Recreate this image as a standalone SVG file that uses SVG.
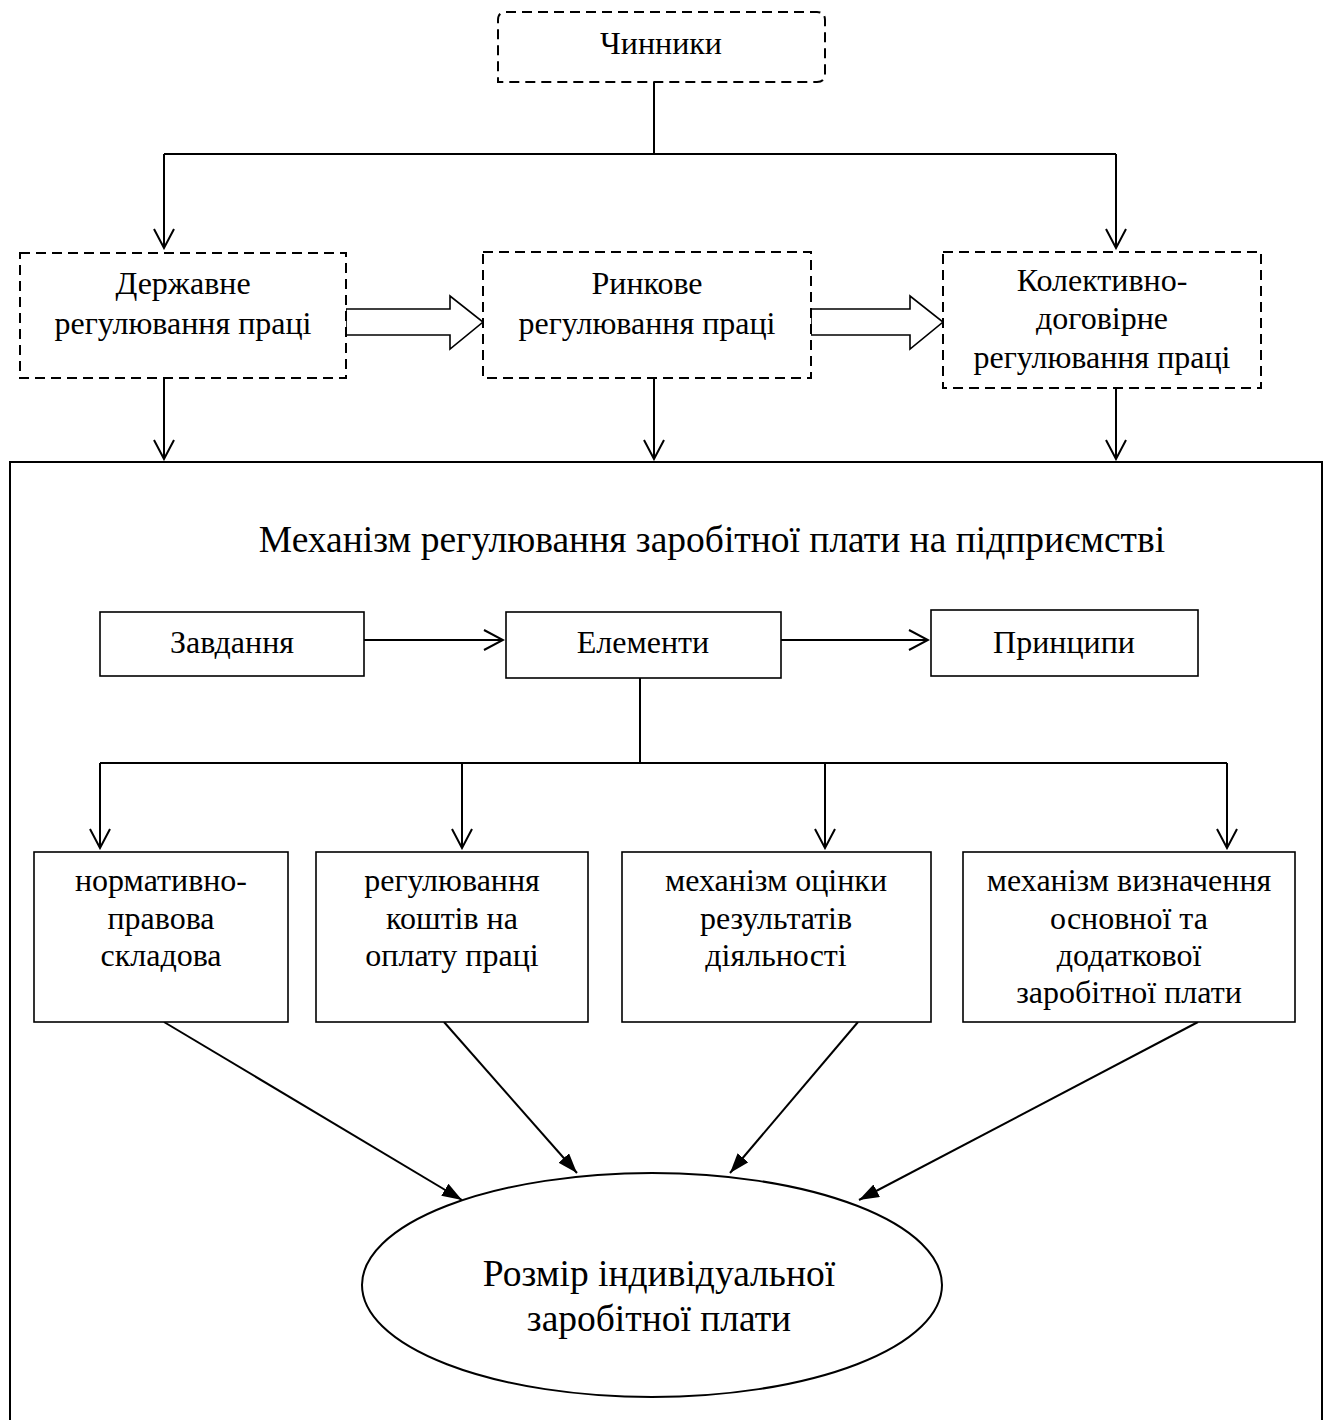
<svg xmlns="http://www.w3.org/2000/svg" width="1324" height="1420" viewBox="0 0 1324 1420">
<style>
text{font-family:"Liberation Serif","Times New Roman",serif;fill:#000;text-anchor:middle}
.t{font-size:32px}
.big{font-size:37.5px}
.dash{fill:#fff;stroke:#000;stroke-width:2;stroke-dasharray:10 6}
.box{fill:#fff;stroke:#000;stroke-width:1.6}
.ln{fill:none;stroke:#000;stroke-width:2}
.blk{fill:#fff;stroke:#000;stroke-width:1.6;stroke-linejoin:miter}
</style>
<defs>
<marker id="v" viewBox="0 0 22 22" refX="20" refY="11" markerWidth="22" markerHeight="22" markerUnits="userSpaceOnUse" orient="auto">
<path d="M1,1 L20,11 L1,21" fill="none" stroke="#000" stroke-width="2"/>
</marker>
<marker id="f" viewBox="0 0 20 14" refX="20" refY="7" markerWidth="20" markerHeight="14" markerUnits="userSpaceOnUse" orient="auto">
<path d="M0,0 L20,7 L0,14 z" fill="#000"/>
</marker>
</defs>
<rect width="1324" height="1420" fill="#fff"/>
<g id="outer">
<path class="ln" d="M10,1430 V462 H1322 V1430"/>
</g>
<g id="connectors">
<path class="ln" d="M654,82 V154"/>
<path class="ln" d="M164,154 H1116"/>
<path class="ln" d="M164,154 V248" marker-end="url(#v)"/>
<path class="ln" d="M1116,154 V248" marker-end="url(#v)"/>
<polygon class="blk" points="346,309 450,309 450,296 483,322 450,349 450,335 346,335"/>
<polygon class="blk" points="811,309 910,309 910,296 943,322 910,349 910,335 811,335"/>
<path class="ln" d="M164,378 V459" marker-end="url(#v)"/>
<path class="ln" d="M654,378 V459" marker-end="url(#v)"/>
<path class="ln" d="M1116,388 V459" marker-end="url(#v)"/>
<path class="ln" d="M364,640 H503" marker-end="url(#v)"/>
<path class="ln" d="M781,640 H928" marker-end="url(#v)"/>
<path class="ln" d="M640,678 V763"/>
<path class="ln" d="M100,763 H1227"/>
<path class="ln" d="M100,763 V848" marker-end="url(#v)"/>
<path class="ln" d="M462,763 V848" marker-end="url(#v)"/>
<path class="ln" d="M825,763 V848" marker-end="url(#v)"/>
<path class="ln" d="M1227,763 V848" marker-end="url(#v)"/>
<path class="ln" d="M164,1022 L462,1200" marker-end="url(#f)"/>
<path class="ln" d="M444,1022 L577,1173" marker-end="url(#f)"/>
<path class="ln" d="M858,1022 L730,1173" marker-end="url(#f)"/>
<path class="ln" d="M1198,1022 L859,1200" marker-end="url(#f)"/>
</g>
<g id="chynnyky">
<path class="dash" d="M506,12 H817 Q825,12 825,20 V74 Q825,82 817,82 H498 V20 Q498,12 506,12 Z"/>
<text class="t" x="661" y="54">Чинники</text>
</g>
<g id="derzh">
<rect class="dash" x="20" y="253" width="326" height="125"/>
<text class="t" x="183" y="294">Державне</text>
<text class="t" x="183" y="334">регулювання праці</text>
</g>
<g id="rynk">
<rect class="dash" x="483" y="252" width="328" height="126"/>
<text class="t" x="647" y="294">Ринкове</text>
<text class="t" x="647" y="334">регулювання праці</text>
</g>
<g id="kolekt">
<rect class="dash" x="943" y="252" width="318" height="136"/>
<text class="t" x="1102" y="291">Колективно-</text>
<text class="t" x="1102" y="329">договірне</text>
<text class="t" x="1102" y="368">регулювання праці</text>
</g>
<g id="title">
<text class="big" x="712" y="552">Механізм регулювання заробітної плати на підприємстві</text>
</g>
<g id="zavd">
<rect class="box" x="100" y="612" width="264" height="64"/>
<text class="t" x="232" y="653">Завдання</text>
</g>
<g id="elem">
<rect class="box" x="506" y="612" width="275" height="66"/>
<text class="t" x="643" y="653">Елементи</text>
</g>
<g id="pryn">
<rect class="box" x="931" y="610" width="267" height="66"/>
<text class="t" x="1064" y="653">Принципи</text>
</g>
<g id="b1">
<rect class="box" x="34" y="852" width="254" height="170"/>
<text class="t" x="161" y="891">нормативно-</text>
<text class="t" x="161" y="929">правова</text>
<text class="t" x="161" y="966">складова</text>
</g>
<g id="b2">
<rect class="box" x="316" y="852" width="272" height="170"/>
<text class="t" x="452" y="891">регулювання</text>
<text class="t" x="452" y="929">коштів на</text>
<text class="t" x="452" y="966">оплату праці</text>
</g>
<g id="b3">
<rect class="box" x="622" y="852" width="309" height="170"/>
<text class="t" x="776" y="891">механізм оцінки</text>
<text class="t" x="776" y="929">результатів</text>
<text class="t" x="776" y="966">діяльності</text>
</g>
<g id="b4">
<rect class="box" x="963" y="852" width="332" height="170"/>
<text class="t" x="1129" y="891">механізм визначення</text>
<text class="t" x="1129" y="929">основної та</text>
<text class="t" x="1129" y="966">додаткової</text>
<text class="t" x="1129" y="1003">заробітної плати</text>
</g>
<g id="rozmir">
<ellipse cx="652" cy="1285" rx="290" ry="112" fill="#fff" stroke="#000" stroke-width="2"/>
<text class="big" x="659" y="1286">Розмір індивідуальної</text>
<text class="big" x="659" y="1331">заробітної плати</text>
</g>
</svg>
